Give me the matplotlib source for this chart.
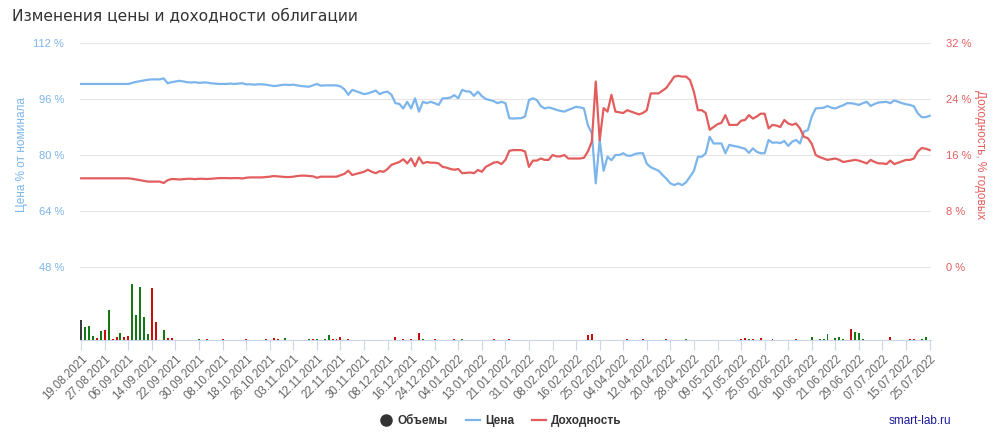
import matplotlib
matplotlib.use("Agg")
import matplotlib.pyplot as plt
from matplotlib.lines import Line2D

# ---------------- data ----------------
tick_labels = ["19.08.2021", "27.08.2021", "06.09.2021", "14.09.2021", "22.09.2021",
               "30.09.2021", "08.10.2021", "18.10.2021", "26.10.2021", "03.11.2021",
               "12.11.2021", "22.11.2021", "30.11.2021", "08.12.2021", "16.12.2021",
               "24.12.2021", "04.01.2022", "13.01.2022", "21.01.2022", "31.01.2022",
               "08.02.2022", "16.02.2022", "25.02.2022", "04.04.2022", "12.04.2022",
               "20.04.2022", "28.04.2022", "09.05.2022", "17.05.2022", "25.05.2022",
               "02.06.2022", "10.06.2022", "21.06.2022", "29.06.2022", "07.07.2022",
               "15.07.2022", "25.07.2022"]
days_per_label = 6

price = [
    100.3, 100.3, 100.3, 100.3, 100.3, 100.3, 100.3, 100.3, 100.3, 100.3, 100.3, 100.3,
    100.3, 100.6, 100.9, 101.1, 101.3, 101.5, 101.6, 101.6, 101.6, 101.9, 100.5, 100.8,
    101.0, 101.2, 101.0, 100.8, 100.7, 100.8, 100.6, 100.7, 100.7, 100.5, 100.4, 100.3,
    100.3, 100.3, 100.4, 100.3, 100.4, 100.5, 100.2, 100.2, 100.1, 100.2, 100.2, 100.1,
    99.9, 99.7, 99.8, 100.0, 100.1, 100.0, 100.1, 99.9, 99.7, 99.6, 99.5, 99.9,
    100.3, 99.8, 99.9, 99.9, 99.9, 99.9, 99.6, 98.8, 97.2, 98.6, 98.2, 97.8,
    97.4, 97.6, 98.0, 98.4, 97.4, 97.9, 98.1, 97.2, 94.8, 94.6, 93.3, 95.2,
    93.3, 96.2, 92.4, 95.2, 94.8, 95.2, 94.8, 94.3, 96.2, 96.2, 96.4, 97.1,
    96.2, 98.6, 98.2, 98.1, 96.9, 98.1, 96.8, 96.0, 95.7, 95.4, 94.8, 95.2,
    94.8, 90.5, 90.4, 90.5, 90.5, 91.0, 95.7, 96.2, 95.7, 94.0, 93.3, 93.6,
    93.3, 92.9, 92.6, 92.4, 92.9, 93.3, 93.8, 93.6, 93.3, 88.5, 86.2, 71.9,
    84.3, 75.5, 79.5, 78.5, 80.0, 80.0, 80.5, 79.8, 79.8, 80.3, 80.5, 80.5,
    77.5, 76.5, 76.0, 75.5, 74.3, 73.2, 71.9, 71.4, 71.9, 71.4, 72.2, 73.8,
    75.5, 79.5, 79.5, 80.5, 85.2, 83.3, 83.3, 83.3, 80.5, 82.9, 82.6, 82.4,
    82.1, 81.8, 80.6, 81.9, 80.9, 80.5, 80.5, 84.3, 83.5, 83.6, 83.4, 84.0,
    82.6, 83.8, 84.3, 83.3, 86.7, 87.1, 91.0, 93.3, 93.4, 93.5, 94.0, 93.5,
    93.3, 93.8, 94.2, 94.8, 94.8, 94.6, 94.3, 94.8, 95.2, 94.0, 94.6, 95.0,
    95.1, 95.2, 94.8, 95.6, 95.2, 94.8, 94.5, 94.3, 93.9, 91.9, 90.8, 90.8,
    91.2]

yield_pct = [
    12.67, 12.67, 12.67, 12.67, 12.67, 12.67, 12.67, 12.67, 12.67, 12.67, 12.67, 12.67,
    12.67, 12.6, 12.5, 12.4, 12.3, 12.2, 12.2, 12.2, 12.2, 12.0, 12.4, 12.57,
    12.55, 12.5, 12.55, 12.6, 12.6, 12.55, 12.6, 12.6, 12.57, 12.6, 12.65, 12.7,
    12.7, 12.7, 12.68, 12.7, 12.7, 12.65, 12.75, 12.8, 12.8, 12.8, 12.8, 12.85,
    12.9, 13.0, 12.95, 12.9, 12.85, 12.85, 12.9, 13.0, 13.05, 13.05, 13.0, 12.95,
    12.75, 12.9, 12.9, 12.9, 12.9, 12.9, 13.1, 13.3, 13.76, 13.14, 13.3, 13.45,
    13.6, 13.9, 13.6, 13.4, 13.7, 13.6, 14.0, 14.6, 14.8, 15.0, 15.4, 14.8,
    15.5, 14.4, 15.67, 14.8, 15.0, 14.9, 14.9, 14.8, 14.3, 14.2, 14.0, 13.9,
    14.0, 13.4, 13.45, 13.5, 13.4, 13.86, 13.6, 14.3, 14.6, 14.9, 15.0, 14.7,
    15.3, 16.6, 16.7, 16.7, 16.7, 16.5, 14.3, 15.2, 15.2, 15.5, 15.3, 15.3,
    16.0, 15.8, 15.8, 16.0, 15.5, 15.5, 15.5, 15.5, 15.6, 16.5, 17.9, 26.5,
    18.1, 22.7, 22.2, 24.6, 22.2, 22.1, 22.0, 22.4, 22.2, 22.0, 21.8, 22.0,
    22.4, 24.8, 24.8, 24.8, 25.2, 25.6, 26.4, 27.2, 27.3, 27.2, 27.2, 26.7,
    25.0, 22.4, 22.4, 22.0, 19.6, 20.0, 20.4, 20.6, 21.7, 20.3, 20.3, 20.3,
    20.9, 21.0, 21.7, 21.2, 21.5, 21.9, 21.9, 19.8, 20.3, 20.2, 20.0, 21.0,
    20.5, 20.3, 20.5, 19.8, 18.6, 18.4, 17.6, 16.0, 15.7, 15.5, 15.3, 15.4,
    15.5, 15.3, 15.0, 15.1, 15.2, 15.3, 15.2, 15.0, 14.8, 15.3, 15.0, 14.8,
    14.8, 14.7, 15.2, 14.7, 14.9, 15.1, 15.3, 15.3, 15.5, 16.5, 17.0, 16.9,
    16.7]

# trading volume (relative units), only the days with visible bars
# direction: g = price up, r = price down, k = no change / first day
vol_day = [0, 1, 2, 3, 4, 5, 6, 7, 8, 9, 10, 11, 12, 13, 14, 15, 16, 17, 18, 19,
           21, 22, 23,
           30, 32, 36, 42, 47, 49, 50, 52, 58, 59, 60, 62, 63, 64, 65, 66, 68,
           80, 82, 84, 86, 87, 90, 95, 97, 105, 109, 129, 130, 139, 143, 149, 154,
           168, 169, 170, 171, 173, 176, 182, 186, 188, 189, 190, 192, 193, 194,
           196, 197, 198, 199, 206, 211, 212, 214, 215]
vol_val = [20, 13.3, 14.3, 4.3, 2.3, 9, 10, 29.7, 1, 3.3, 6.7, 2.7, 3.7, 55.7, 25,
           52.7, 22.7, 5.7, 51.7, 18,
           9.7, 1.7, 1.7,
           1, 1, 1, 1, 1, 2, 1, 2, 1, 1, 1.5, 1, 5, 1, 1, 3, 1,
           3, 1, 1, 7, 1, 1, 1, 1, 1, 1, 5, 6, 1, 1, 1, 1,
           1.5, 2, 1, 1, 2, 1, 1, 3, 1, 1.5, 6, 2, 3, 1.5,
           11, 8, 7, 1, 3, 1.5, 1.5, 1.5, 3]
vol_dir = ["k", "g", "g", "g", "r", "g", "r", "g", "r", "r", "g", "r", "r", "g", "g",
           "g", "g", "g", "r", "r",
           "g", "r", "r",
           "g", "r", "r", "r", "r", "r", "r", "g", "g", "r", "g", "g", "g", "r", "r", "r", "r",
           "r", "r", "r", "r", "g", "r", "r", "g", "r", "r", "r", "r", "r", "r", "r", "g",
           "r", "r", "g", "r", "r", "r", "r", "g", "g", "g", "g", "g", "g", "g",
           "r", "g", "g", "g", "r", "r", "r", "g", "g"]

# ---------------- style ----------------
C_PRICE = "#7cb5ec"
C_YIELD = "#e35d5d"
C_GRID = "#e6e6e6"
C_AXIS = "#ccd6eb"
BAR_COL = {"g": "#137a13", "r": "#c80d0d", "k": "#3c3c3c"}

plt.rcParams["font.family"] = ["Liberation Sans", "DejaVu Sans"]

W, H = 1001, 443
fig = plt.figure(figsize=(W / 100, H / 100), dpi=100)
L, R, T, B = 80, 931, 43, 340
ax = fig.add_axes([L / W, 1 - B / H, (R - L) / W, (B - T) / H])
axv = ax.twinx()
ax2 = ax.twinx()

n = len(price)
x = list(range(n))

# price axis (left)
plot_h = B - T
px_per_16 = 56.0
ax.set_ylim(112 - plot_h / px_per_16 * 16, 112)
ax.set_yticks([48, 64, 80, 96, 112])
ax.set_yticklabels([f"{v} %" for v in [48, 64, 80, 96, 112]])
ax.tick_params(axis="y", length=0, pad=11.5, labelsize=8, labelcolor=C_PRICE)
ax.grid(axis="y", color=C_GRID, lw=0.8)
ax.set_axisbelow(True)

# yield axis (right)
ax2.set_ylim(32 - plot_h / px_per_16 * 8, 32)
ax2.set_yticks([0, 8, 16, 24, 32])
ax2.set_yticklabels([f"{v} %" for v in [0, 8, 16, 24, 32]])
ax2.tick_params(axis="y", length=0, pad=10.5, labelsize=8, labelcolor=C_YIELD)

# volume axis (hidden)
axv.set_ylim(0, plot_h)
axv.set_yticks([])

for a in (ax, ax2, axv):
    for s in ("top", "left", "right", "bottom"):
        a.spines[s].set_visible(False)
ax.spines["bottom"].set_visible(True)
ax.spines["bottom"].set_color(C_AXIS)
ax.spines["bottom"].set_linewidth(0.8)

ax.set_xlim(-0.3, n - 1 + 0.35)
ticks = [i * days_per_label for i in range(len(tick_labels))]
ax.set_xticks(ticks)
ax.set_xticklabels(tick_labels, rotation=45, ha="right", va="top",
                   rotation_mode="anchor", fontsize=8.3, color="#666666")
ax.tick_params(axis="x", length=7, width=0.8, color=C_AXIS, pad=2)

# volume bars
axv.bar(vol_day, vol_val, width=0.5, color=[BAR_COL[c] for c in vol_dir], lw=0)

# lines
ax.plot(x, price, color=C_PRICE, lw=1.6, solid_joinstyle="round")
ax2.plot(x, yield_pct, color=C_YIELD, lw=1.6, solid_joinstyle="round")

# texts
fig.text(12 / W, 1 - 17 / H, "Изменения цены и доходности облигации",
         fontsize=11.2, color="#333333", ha="left", va="center",
         family=["DejaVu Sans"])
fig.text(22 / W, 1 - 155 / H, "Цена % от номинала", rotation=90,
         fontsize=8.5, color=C_PRICE, ha="center", va="center")
fig.text(980 / W, 1 - 155 / H, "Доходность, % годовых", rotation=270,
         fontsize=8.5, color=C_YIELD, ha="center", va="center")
fig.text(889 / W, 1 - 421 / H, "smart-lab.ru", fontsize=8.5, color="#1a1a9a",
         ha="left", va="center")

handles = [
    Line2D([], [], marker="o", ls="none", color="#333333", markersize=8),
    Line2D([], [], color=C_PRICE, lw=1.6),
    Line2D([], [], color=C_YIELD, lw=1.6),
]
leg = fig.legend(handles, ["Объемы", "Цена", "Доходность"], loc="center",
                 bbox_to_anchor=(500 / W, 1 - 421 / H), ncol=3, frameon=False,
                 handlelength=1.2, handletextpad=0.4, columnspacing=1.5,
                 prop={"size": 8.5, "weight": "bold"})
for t in leg.get_texts():
    t.set_color("#333333")

fig.savefig("out.png", dpi=100)
